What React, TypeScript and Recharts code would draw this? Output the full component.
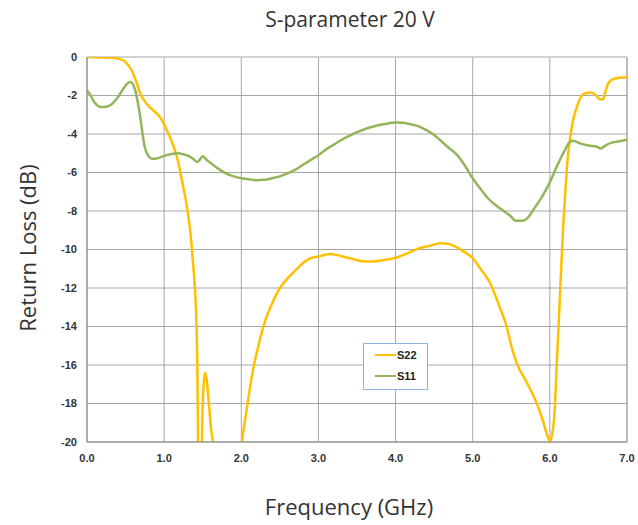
import { LineChart, Line, XAxis, YAxis, CartesianGrid, ReferenceLine } from 'recharts';

// S22 (output return loss)
const freqS22 = [
  0, 0.2, 0.35, 0.42, 0.48, 0.52, 0.58, 0.64, 0.69, 0.74, 0.8, 0.88, 0.95, 1.0, 1.04, 1.09, 1.14, 1.19, 1.23, 1.27,
  1.3, 1.34, 1.37, 1.4, 1.42, 1.43, 1.44, 1.46, 1.48, 1.49, 1.51, 1.53, 1.55, 1.58, 1.61, 1.63, 1.65, 1.8, 1.95, 2.01,
  2.07, 2.15, 2.24, 2.31, 2.4, 2.5, 2.6, 2.7, 2.8, 2.9, 3.02, 3.15, 3.3, 3.45, 3.6, 3.7, 3.85, 4.02, 4.15, 4.3,
  4.45, 4.58, 4.7, 4.8, 4.9, 5.0, 5.1, 5.22, 5.35, 5.44, 5.5, 5.57, 5.7, 5.83, 5.91, 5.97, 6.0, 6.03, 6.06, 6.09,
  6.13, 6.17, 6.2, 6.23, 6.26, 6.3, 6.35, 6.4, 6.45, 6.54, 6.6, 6.65, 6.69, 6.72, 6.76, 6.82, 6.9, 7.0,
];
const s22 = [
  0, -0.02, -0.05, -0.1, -0.2, -0.35, -0.7, -1.3, -1.9, -2.25, -2.55, -2.85, -3.15, -3.5, -3.85, -4.3, -4.85, -5.6, -6.4, -7.2,
  -7.9, -9.1, -10.5, -12.1, -14, -16, -20, -26, -24, -20, -17.2, -16.4, -16.7, -18, -19.4, -20, -22, -30, -23, -20,
  -18.3, -16.3, -14.7, -13.7, -12.8, -12.0, -11.5, -11.1, -10.7, -10.45, -10.35, -10.23, -10.35, -10.5, -10.62, -10.62, -10.55, -10.4, -10.2, -9.95,
  -9.8, -9.67, -9.72, -9.9, -10.15, -10.45, -11.0, -11.7, -13, -14, -15, -15.9, -16.9, -18, -18.9, -19.7, -19.95, -19.6, -18.5, -15.9,
  -12.5, -9.0, -7.0, -5.3, -4.3, -3.3, -2.6, -2.1, -1.9, -1.85, -2.0, -2.2, -2.2, -1.8, -1.35, -1.15, -1.08, -1.05,
];

// S11 (input return loss)
const freqS11 = [
  0, 0.04, 0.08, 0.13, 0.18, 0.25, 0.32, 0.38, 0.43, 0.48, 0.53, 0.57, 0.6, 0.63, 0.66, 0.69, 0.72, 0.75, 0.79, 0.84,
  0.9, 0.99, 1.08, 1.17, 1.25, 1.32, 1.38, 1.43, 1.46, 1.5, 1.54, 1.6, 1.7, 1.8, 1.9, 2.0, 2.1, 2.2, 2.3, 2.4,
  2.5, 2.6, 2.7, 2.8, 2.9, 3.0, 3.1, 3.2, 3.3, 3.4, 3.5, 3.6, 3.7, 3.8, 3.9, 4.0, 4.1, 4.2, 4.3, 4.4,
  4.5, 4.6, 4.7, 4.8, 4.9, 5.0, 5.1, 5.2, 5.3, 5.4, 5.5, 5.55, 5.65, 5.7, 5.8, 5.9, 6.0, 6.1, 6.2, 6.26,
  6.3, 6.4, 6.5, 6.6, 6.66, 6.72, 6.8, 6.9, 7.0,
];
const s11 = [
  -1.75, -1.95, -2.25, -2.5, -2.6, -2.58, -2.45, -2.2, -1.9, -1.6, -1.35, -1.3, -1.45, -1.8, -2.4, -3.1, -4.0, -4.7, -5.1, -5.28,
  -5.27, -5.15, -5.05, -5.0, -5.05, -5.15, -5.3, -5.45, -5.35, -5.15, -5.3, -5.5, -5.8, -6.05, -6.2, -6.3, -6.35, -6.4, -6.38, -6.3,
  -6.2, -6.05, -5.85, -5.6, -5.35, -5.1, -4.8, -4.55, -4.3, -4.1, -3.9, -3.75, -3.62, -3.52, -3.45, -3.4, -3.42, -3.5, -3.6, -3.8,
  -4.05, -4.4, -4.75, -5.1, -5.65, -6.3, -6.85, -7.35, -7.7, -8.0, -8.3, -8.5, -8.5, -8.4, -7.85, -7.25, -6.5, -5.6, -4.8, -4.4,
  -4.35, -4.5, -4.6, -4.65, -4.75, -4.6, -4.45, -4.38, -4.3,
];

const xTicks = [0, 1, 2, 3, 4, 5, 6, 7];
const yTicks = [0, -2, -4, -6, -8, -10, -12, -14, -16, -18, -20];

const s22Data = freqS22.map((f, i) => ({ f, v: s22[i] }));
const s11Data = freqS11.map((f, i) => ({ f, v: s11[i] }));

const ORANGE = '#FFC000';
const GREEN = '#93B65A';
const tickStyle = { fontSize: 11, fontWeight: 700, fill: '#333', fontFamily: 'Liberation Sans, Arial, sans-serif' };
const labelFont = '"Open Sans", sans-serif';

export default function App() {
  return (
    <div style={{ position: 'absolute', left: 0, top: 0, width: 638, height: 525, background: '#fff' }}>
      <LineChart width={638} height={525} margin={{ top: 57, right: 11, left: 47, bottom: 53 }}>
        <CartesianGrid stroke="#a6a6a6" horizontal vertical />
        <XAxis
          type="number"
          dataKey="f"
          domain={[0, 7]}
          ticks={xTicks}
          tickFormatter={(v) => Number(v).toFixed(1)}
          tick={tickStyle}
          tickLine={false}
          axisLine={{ stroke: '#868686' }}
          tickMargin={6}
          height={30}
          allowDataOverflow
        />
        <YAxis
          type="number"
          domain={[-20, 0]}
          ticks={yTicks}
          tick={tickStyle}
          tickLine={false}
          axisLine={{ stroke: '#868686' }}
          tickMargin={4}
          width={40}
          allowDataOverflow
        />
        <ReferenceLine y={0} stroke="#d0d0d0" />
        <ReferenceLine x={7} stroke="#a6a6a6" />
        <Line data={s22Data} dataKey="v" type="monotone" stroke={ORANGE} strokeWidth={2.5} dot={false} isAnimationActive={false} />
        <Line data={s11Data} dataKey="v" type="monotone" stroke={GREEN} strokeWidth={2.5} dot={false} isAnimationActive={false} />
      </LineChart>

      <div style={{ position: 'absolute', left: 0, width: 700, top: 5, textAlign: 'center', fontFamily: labelFont, fontSize: 21, color: '#333' }}>
        S-parameter 20 V
      </div>
      <div style={{ position: 'absolute', left: 0, width: 698, top: 491, textAlign: 'center', fontFamily: labelFont, fontSize: 22, color: '#333' }}>
        Frequency (GHz)
      </div>
      <div
        style={{
          position: 'absolute', left: 27, top: 248, transform: 'translate(-50%, -50%) rotate(-90deg)',
          whiteSpace: 'nowrap', fontFamily: labelFont, fontSize: 22, color: '#333',
        }}
      >
        Return Loss (dB)
      </div>

      <div
        style={{
          position: 'absolute', left: 363, top: 343, width: 63, height: 45, border: '1px solid #8EB4E3',
          background: '#fff', fontFamily: 'Liberation Sans, Arial, sans-serif', fontSize: 11, fontWeight: 700, color: '#222',
        }}
      >
        {[{ name: 'S22', c: ORANGE }, { name: 'S11', c: GREEN }].map((s, i) => (
          <div key={s.name} style={{ position: 'absolute', left: 11, top: 4 + i * 21, display: 'flex', alignItems: 'center', height: 14 }}>
            <span style={{ display: 'inline-block', width: 21, height: 2.5, background: s.c, marginRight: 1 }} />
            {s.name}
          </div>
        ))}
      </div>
    </div>
  );
}
